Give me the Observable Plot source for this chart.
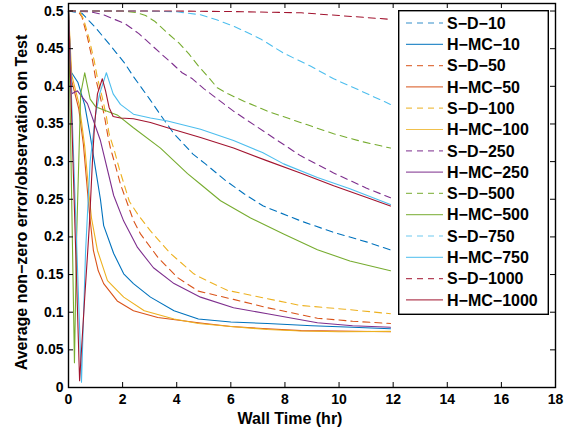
<!DOCTYPE html>
<html><head><meta charset="utf-8">
<script src="https://cdn.jsdelivr.net/npm/d3@7"></script>
<script src="https://cdn.jsdelivr.net/npm/@observablehq/plot@0.6"></script>
<style>
body{margin:0;background:#fff;}
#wrap{position:relative;width:565px;height:432px;font-family:"Liberation Sans",Arial,sans-serif;}
#legend{position:absolute;left:398px;top:10px;}
</style>
</head><body>
<div id="wrap"></div>
<script>
// ---- data (t in hours, value) ----
const xTicks = [0,2,4,6,8,10,12,14,16,18];
const yTicks = [0,0.05,0.1,0.15,0.2,0.25,0.3,0.35,0.4,0.45,0.5];
const names = ["S−D−10","H−MC−10","S−D−50","H−MC−50","S−D−100","H−MC−100","S−D−250","H−MC−250","S−D−500","H−MC−500","S−D−750","H−MC−750","S−D−1000","H−MC−1000"];
const colors = ["#0072BD","#0072BD","#D95319","#D95319","#EDB120","#EDB120","#7E2F8E","#7E2F8E","#77AC30","#77AC30","#4DBEEE","#4DBEEE","#A2142F","#A2142F"];
const dashed = [true,false,true,false,true,false,true,false,true,false,true,false,true,false];

const SD10 = [[0,0.5],[0.5,0.497],[1.0,0.478],[1.6,0.452],[2.07,0.431],[2.4,0.413],[2.7,0.398],[3.0,0.383],[3.4,0.362],[3.9,0.337],[4.6,0.31],[5.06,0.297],[5.8,0.275],[6.5,0.257],[7.2,0.241],[8.6,0.221],[9.8,0.206],[11.05,0.193],[11.95,0.182]];
const HMC10 = [[0,0.5],[0.08,0.42],[0.35,0.405],[0.6,0.375],[0.8,0.335],[1.0,0.29],[1.18,0.25],[1.3,0.215],[1.67,0.178],[2.04,0.151],[2.4,0.138],[3.03,0.12],[3.9,0.102],[4.8,0.091],[6.0,0.087],[7.35,0.085],[9.0,0.082],[10.5,0.08],[11.9,0.078]];
const SD50 = [[0,0.5],[0.35,0.5],[0.5,0.492],[0.7,0.465],[0.89,0.434],[1.0,0.411],[1.18,0.385],[1.33,0.36],[1.45,0.335],[1.55,0.318],[1.74,0.294],[1.92,0.27],[2.18,0.244],[2.4,0.222],[2.66,0.204],[3.3,0.173],[4.03,0.146],[4.8,0.128],[6.1,0.117],[7.35,0.106],[9.2,0.092],[10.5,0.088],[11.9,0.085]];
const HMC50 = [[0,0.5],[0.1,0.41],[0.38,0.37],[0.55,0.323],[0.67,0.274],[0.75,0.24],[0.92,0.182],[1.1,0.155],[1.3,0.138],[1.8,0.115],[2.4,0.102],[3.3,0.093],[4.8,0.086],[6.0,0.081],[7.35,0.078],[8.6,0.0755],[10.0,0.075],[11.9,0.074]];
const SD100 = [[0,0.5],[0.4,0.5],[0.55,0.49],[0.75,0.465],[0.95,0.434],[1.07,0.411],[1.25,0.385],[1.4,0.36],[1.5,0.337],[1.7,0.314],[1.88,0.29],[2.07,0.268],[2.25,0.247],[2.6,0.228],[3.03,0.208],[3.77,0.178],[4.63,0.151],[4.88,0.146],[5.87,0.129],[7.35,0.118],[8.57,0.109],[10.2,0.104],[11.9,0.098]];
const HMC100 = [[0,0.5],[0.12,0.415],[0.4,0.375],[0.6,0.32],[0.75,0.26],[0.85,0.225],[1.07,0.182],[1.44,0.142],[2.04,0.12],[2.8,0.102],[3.9,0.091],[4.8,0.085],[6.0,0.081],[7.35,0.077],[8.6,0.075],[10.0,0.074],[11.9,0.0745]];
const SD250 = [[0,0.5],[0.8,0.499],[1.3,0.495],[1.63,0.49],[2.1,0.483],[2.6,0.47],[3.03,0.456],[3.43,0.443],[3.84,0.43],[4.2,0.418],[4.58,0.41],[5.0,0.397],[6.1,0.367],[7.35,0.337],[8.57,0.308],[9.8,0.285],[11.0,0.265],[11.9,0.252]];
const HMC250 = [[0,0.5],[0.12,0.39],[0.33,0.394],[0.7,0.377],[1.18,0.328],[1.67,0.255],[2.04,0.221],[2.55,0.186],[3.14,0.159],[3.9,0.138],[4.88,0.12],[6.1,0.106],[7.35,0.098],[9.2,0.086],[10.5,0.082],[11.9,0.08]];
const SD500 = [[0,0.5],[2.0,0.5],[2.5,0.498],[2.85,0.494],[3.2,0.486],[3.65,0.471],[4.07,0.458],[4.45,0.443],[4.8,0.427],[5.2,0.411],[5.5,0.398],[5.9,0.39],[6.5,0.38],[7.35,0.367],[8.57,0.352],[9.8,0.337],[10.8,0.327],[11.9,0.318]];
const HMC500 = [[0,0.5],[0.22,0.033],[0.3,0.2],[0.45,0.39],[0.6,0.418],[0.8,0.383],[1.0,0.373],[1.5,0.366],[1.8,0.362],[2.4,0.345],[3.4,0.318],[4.4,0.284],[4.88,0.27],[5.62,0.248],[6.73,0.225],[7.95,0.204],[9.2,0.183],[10.4,0.168],[11.9,0.155]];
const SD750 = [[0,0.5],[3.0,0.5],[4.0,0.499],[4.88,0.495],[5.5,0.488],[6.1,0.48],[7.1,0.463],[7.95,0.444],[8.94,0.427],[9.8,0.41],[10.8,0.394],[11.9,0.376]];
const HMC750 = [[0,0.5],[0.48,0.007],[0.63,0.18],[0.8,0.3],[1.0,0.362],[1.15,0.39],[1.4,0.418],[1.65,0.39],[1.92,0.376],[2.4,0.363],[3.03,0.358],[3.66,0.354],[4.88,0.343],[6.1,0.328],[7.17,0.312],[7.95,0.297],[9.2,0.279],[10.4,0.264],[11.4,0.25],[11.9,0.243]];
const SD1000 = [[0,0.5],[4.0,0.5],[6.0,0.4993],[8.6,0.4977],[10.0,0.494],[11.9,0.489]];
const HMC1000 = [[0,0.5],[0.41,0.009],[0.6,0.12],[0.7,0.175],[0.77,0.215],[0.89,0.304],[0.96,0.347],[1.07,0.39],[1.25,0.41],[1.37,0.394],[1.5,0.372],[1.65,0.36],[1.92,0.358],[2.4,0.357],[3.03,0.352],[3.66,0.345],[4.88,0.332],[6.1,0.318],[7.35,0.301],[8.57,0.285],[9.8,0.268],[11.05,0.252],[11.9,0.241]];

const seriesData = [SD10,HMC10,SD50,HMC50,SD100,HMC100,SD250,HMC250,SD500,HMC500,SD750,HMC750,SD1000,HMC1000];

// ---- chart ----
const W = 565, H = 432;
const mL = 68, mR = 10, mT = 3, mB = 45;
const frameW = W - mL - mR, frameH = H - mT - mB;
const DASH = "7,5";

const lineMarks = seriesData.map((d, i) => Plot.line(d, {
  x: p => p[0], y: p => p[1],
  stroke: colors[i], strokeWidth: 1.1,
  strokeDasharray: dashed[i] ? DASH : null
}));

const chart = Plot.plot({
  width: W, height: H,
  marginLeft: mL, marginRight: mR, marginTop: mT, marginBottom: mB,
  style: {fontFamily: "'Liberation Sans', Arial, sans-serif", fontWeight: "bold", fontSize: "14px", color: "#000", background: "#fff"},
  x: {domain: [0, 18]},
  y: {domain: [0, 0.51]},
  marks: [
    ...lineMarks,
    Plot.axisX({ticks: xTicks, tickSize: 0, tickPadding: 7, tickFormat: d => String(d), label: null}),
    Plot.axisY({ticks: yTicks, tickSize: 0, tickPadding: 5, tickFormat: d => String(+d.toFixed(2)), label: null}),
    Plot.tickX(xTicks, {x: d => d, insetTop: frameH - 5, stroke: "#000", strokeWidth: 1}),
    Plot.tickX(xTicks, {x: d => d, insetBottom: frameH - 5, stroke: "#000", strokeWidth: 1}),
    Plot.tickY(yTicks, {y: d => d, insetRight: frameW - 5, stroke: "#000", strokeWidth: 1}),
    Plot.tickY(yTicks, {y: d => d, insetLeft: frameW - 5, stroke: "#000", strokeWidth: 1}),
    Plot.frame({stroke: "#000", strokeWidth: 1.4}),
    Plot.text(["Wall Time (hr)"], {frameAnchor: "bottom", text: d => d, textAnchor: "middle", lineAnchor: "middle", dx: -22, dy: 31, fontSize: 16, fontWeight: "bold", fill: "#000"}),
    Plot.text(["Average non−zero error/observation on Test"], {frameAnchor: "left", text: d => d, textAnchor: "middle", lineAnchor: "middle", rotate: -90, dx: -47, dy: 7, fontSize: 16, fontWeight: "bold", fill: "#000"})
  ]
});
const wrap = document.getElementById("wrap");
wrap.appendChild(chart);

// ---- legend ----
const legW = 151, legH = 305, rowH = 21.3, firstRow = 13;
const leg = d3.select(wrap).append("svg").attr("id", "legend")
  .attr("width", legW).attr("height", legH);
leg.append("rect").attr("x", 0.7).attr("y", 0.7).attr("width", legW - 1.4).attr("height", legH - 1.4)
  .attr("fill", "#fff").attr("stroke", "#000").attr("stroke-width", 1.4);
names.forEach((n, i) => {
  const y = firstRow + i * rowH;
  leg.append("line").attr("x1", 8).attr("x2", 45).attr("y1", y).attr("y2", y)
    .attr("stroke", colors[i]).attr("stroke-width", 1.2).attr("opacity", 0.8)
    .attr("stroke-dasharray", dashed[i] ? "6,5" : null);
  leg.append("text").attr("x", 49).attr("y", y).attr("dy", "0.36em")
    .attr("font-family", "'Liberation Sans', Arial, sans-serif").attr("font-weight", "bold")
    .attr("font-size", 16).attr("fill", "#000").text(n);
});
</script>
</body></html>
